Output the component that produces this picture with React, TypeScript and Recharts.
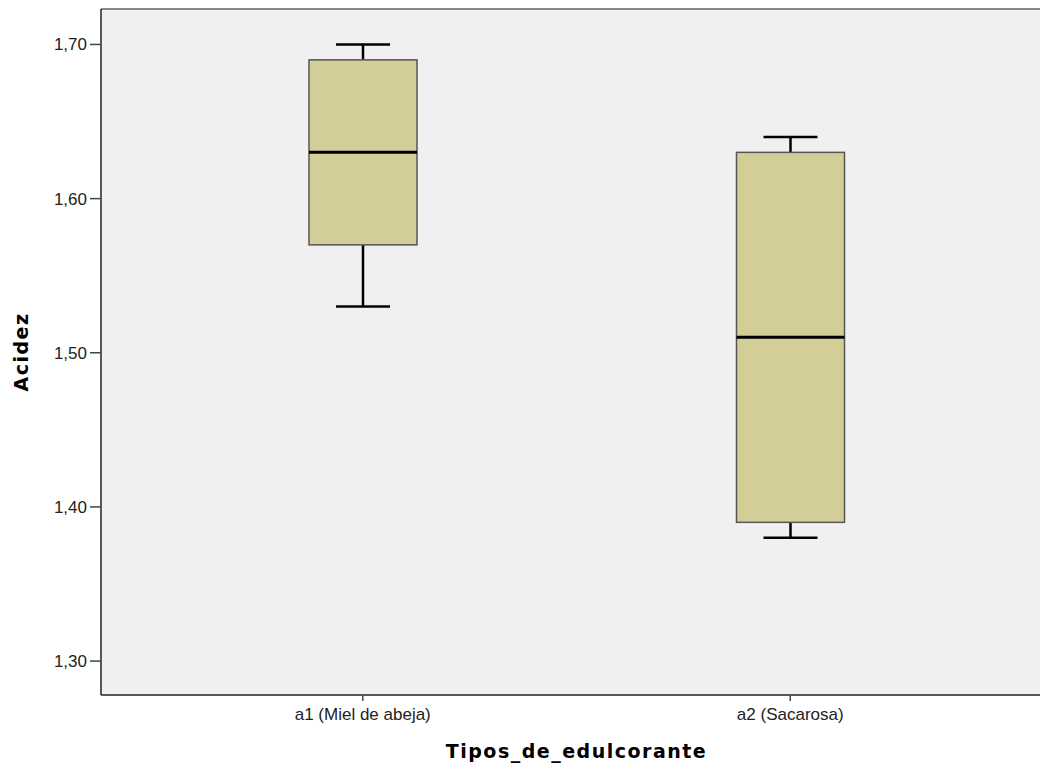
import React from "react";
import {
  ComposedChart,
  Bar,
  XAxis,
  YAxis,
  CartesianGrid,
  ReferenceLine,
  Label,
} from "recharts";

// Box plot summary per sweetener type
const categories = ["a1 (Miel de abeja)", "a2 (Sacarosa)"];
const minValues = [1.53, 1.38];
const q1Values = [1.57, 1.39];
const medianValues = [1.63, 1.51];
const q3Values = [1.69, 1.63];
const maxValues = [1.7, 1.64];
const yTicks = [1.3, 1.4, 1.5, 1.6, 1.7];
const yDomain: [number, number] = [1.278, 1.723];

const data = categories.map((name, i) => ({
  name,
  min: minValues[i],
  q1: q1Values[i],
  median: medianValues[i],
  q3: q3Values[i],
  max: maxValues[i],
  range: [minValues[i], maxValues[i]],
}));

const BoxShape = (props: any) => {
  const { x, y, width, height, payload } = props;
  if (!payload) return null;
  const top = Math.min(y, y + height);
  const h = Math.abs(height);
  const { min, q1, median, q3, max } = payload;
  const px = (v: number) => top + ((max - v) / (max - min)) * h;
  const cx = x + width / 2;
  const capHalf = width / 4;
  const yMax = px(max);
  const yQ3 = px(q3);
  const yMed = px(median);
  const yQ1 = px(q1);
  const yMin = px(min);
  return (
    <g>
      <line x1={cx} x2={cx} y1={yMax} y2={yQ3} stroke="#000" strokeWidth={2.5} />
      <line x1={cx - capHalf} x2={cx + capHalf} y1={yMax} y2={yMax} stroke="#000" strokeWidth={2.5} />
      <line x1={cx} x2={cx} y1={yQ1} y2={yMin} stroke="#000" strokeWidth={2.5} />
      <line x1={cx - capHalf} x2={cx + capHalf} y1={yMin} y2={yMin} stroke="#000" strokeWidth={2.5} />
      <rect
        x={x}
        y={yQ3}
        width={width}
        height={yQ1 - yQ3}
        fill="#d3ce98"
        stroke="#555"
        strokeWidth={1.5}
      />
      <line x1={x} x2={x + width} y1={yMed} y2={yMed} stroke="#000" strokeWidth={3} />
    </g>
  );
};

const fmt = (v: number) => v.toFixed(2).replace(".", ",");

const titleStyle = {
  fontFamily: "DejaVu Sans, sans-serif",
  fontWeight: "bold",
  fontSize: 19,
  letterSpacing: 1.5,
  fill: "#000",
};

export default function App() {
  return (
    <div
      style={{
        position: "absolute",
        left: 0,
        top: 0,
        width: 1040,
        height: 767,
        overflow: "hidden",
        background: "#fff",
      }}
    >
      <ComposedChart
        width={1060}
        height={767}
        data={data}
        margin={{ top: 9, right: 8, bottom: 42, left: 41 }}
        style={{ fontFamily: "Liberation Sans, Arial, sans-serif" }}
      >
        <CartesianGrid fill="#f0f0f0" horizontal={false} vertical={false} />
        <ReferenceLine y={yDomain[1]} stroke="#888" strokeWidth={2} ifOverflow="extendDomain" />
        <XAxis
          dataKey="name"
          type="category"
          padding={{ left: 48, right: 48 }}
          height={30}
          axisLine={{ stroke: "#222", strokeWidth: 1.5 }}
          tickLine={{ stroke: "#444", strokeWidth: 1.5 }}
          tickSize={6}
          tickMargin={7}
          tick={{ fill: "#222", fontSize: 17 }}
        >
          <Label
            value="Tipos_de_edulcorante"
            position="insideBottom"
            offset={-33}
            style={titleStyle}
          />
        </XAxis>
        <YAxis
          type="number"
          domain={yDomain}
          ticks={yTicks}
          allowDataOverflow
          width={60}
          tickFormatter={fmt}
          axisLine={{ stroke: "#222", strokeWidth: 1.5 }}
          tickLine={{ stroke: "#444", strokeWidth: 1.5 }}
          tickSize={11}
          tickMargin={3}
          tick={{ fill: "#222", fontSize: 17 }}
        >
          <Label
            value="Acidez"
            angle={-90}
            position="insideLeft"
            offset={-20}
            style={{ ...titleStyle, textAnchor: "middle" }}
          />
        </YAxis>
        <Bar dataKey="range" barSize={108} shape={BoxShape} isAnimationActive={false} />
      </ComposedChart>
    </div>
  );
}
